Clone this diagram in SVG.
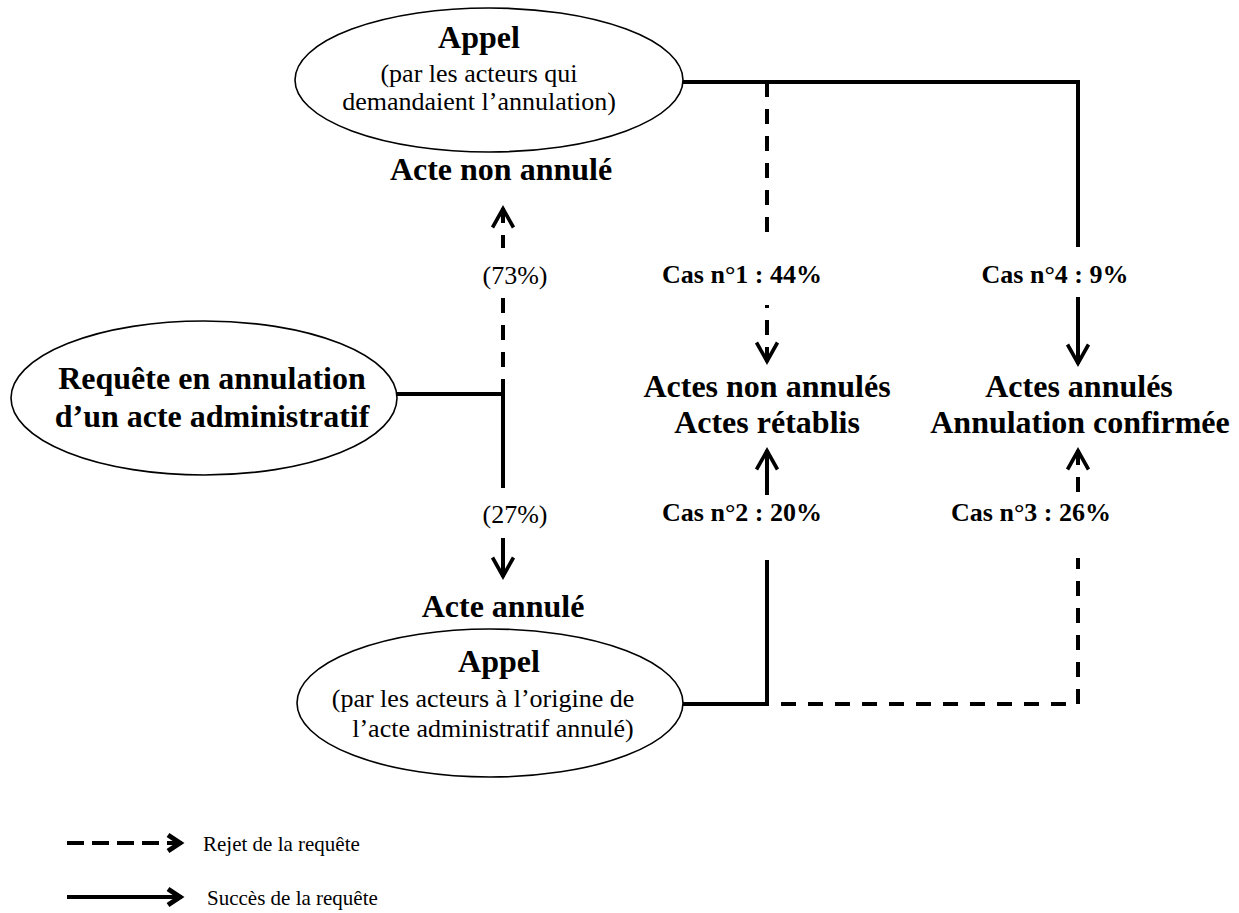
<svg xmlns="http://www.w3.org/2000/svg" width="1239" height="913" viewBox="0 0 1239 913">
<style>
text{font-family:"Liberation Serif","Times New Roman",serif;fill:#000}
.b{font-size:32px;font-weight:bold;text-anchor:middle}
.r{font-size:26px;text-anchor:middle}
.l{font-size:26px;font-weight:bold;text-anchor:middle}
.g{font-size:21px}
.node ellipse{fill:#fff;stroke:#000;stroke-width:1.6}
.ln{fill:none;stroke:#000;stroke-width:4}
.d{stroke-dasharray:15 12}
</style>
<defs>
<marker id="ah" viewBox="-24 -14 28 28" refX="0" refY="0" markerWidth="28" markerHeight="28" markerUnits="userSpaceOnUse" orient="auto-start-reverse" overflow="visible">
<path d="M-19.5,-10.5 L-0.8,0 L-19.5,10.5" fill="none" stroke="#000" stroke-width="3.6" stroke-linejoin="miter" stroke-miterlimit="10"/>
</marker>
<marker id="ahL" viewBox="-24 -14 28 28" refX="0" refY="0" markerWidth="28" markerHeight="28" markerUnits="userSpaceOnUse" orient="auto" overflow="visible">
<path d="M-14,-8 L-2,0 L-14,8" fill="none" stroke="#000" stroke-width="5" stroke-linejoin="miter" stroke-miterlimit="10"/>
</marker>
</defs>
<rect width="1239" height="913" fill="#fff"/>

<g id="connectors">
<path class="ln" d="M683,82 H1078 V247"/>
<path class="ln" d="M1078,297 V364" marker-end="url(#ah)"/>
<path class="ln d" d="M767,82 V237"/>
<path class="ln d" d="M767,362 V305" marker-start="url(#ah)"/>
<path class="ln" d="M397,394 H503 V488"/>
<path class="ln" d="M503,538 V577" marker-end="url(#ah)"/>
<path class="ln d" d="M503,394 V297"/>
<path class="ln d" d="M503,208 V248" marker-start="url(#ah)"/>
<path class="ln" d="M683,704 H767 V560"/>
<path class="ln" d="M767,495 V450" marker-end="url(#ah)"/>
<path class="ln d" d="M781,704 H1078 V558"/>
<path class="ln d" d="M1078,450 V495" marker-start="url(#ah)"/>
</g>

<g id="node-appel-top" class="node">
<ellipse cx="489" cy="80" rx="194" ry="72"/>
<text class="b" x="479" y="48">Appel</text>
<text class="r" x="479" y="82">(par les acteurs qui</text>
<text class="r" x="479" y="110">demandaient l’annulation)</text>
</g>

<g id="node-acte-non-annule">
<text class="b" x="501" y="180">Acte non annulé</text>
</g>

<g id="node-requete" class="node">
<ellipse cx="204" cy="398" rx="193" ry="77"/>
<text class="b" x="212" y="389">Requête en annulation</text>
<text class="b" x="212" y="427">d’un acte administratif</text>
</g>

<g id="node-acte-annule">
<text class="b" x="503" y="617">Acte annulé</text>
</g>

<g id="node-appel-bottom" class="node">
<ellipse cx="490" cy="703" rx="193" ry="74"/>
<text class="b" x="499" y="672">Appel</text>
<text class="r" x="483" y="707">(par les acteurs à l’origine de</text>
<text class="r" x="493" y="737">l’acte administratif annulé)</text>
</g>

<g id="node-non-annules">
<text class="b" x="767" y="397">Actes non annulés</text>
<text class="b" x="767" y="433">Actes rétablis</text>
</g>

<g id="node-annules">
<text class="b" x="1079" y="397">Actes annulés</text>
<text class="b" x="1080" y="433">Annulation confirmée</text>
</g>

<g id="labels">
<text class="r" x="515" y="284">(73%)</text>
<text class="r" x="515" y="523">(27%)</text>
<text class="l" x="742" y="283">Cas n°1 : 44%</text>
<text class="l" x="1055" y="283">Cas n°4 : 9%</text>
<text class="l" x="742" y="521">Cas n°2 : 20%</text>
<text class="l" x="1031" y="521">Cas n°3 : 26%</text>
</g>

<g id="legend">
<path class="ln" d="M67,843 H182" stroke-dasharray="17 8" marker-end="url(#ahL)"/>
<text class="g" x="203" y="851">Rejet de la requête</text>
<path class="ln" d="M67,897 H182" marker-end="url(#ahL)"/>
<text class="g" x="207" y="905">Succès de la requête</text>
</g>
</svg>
